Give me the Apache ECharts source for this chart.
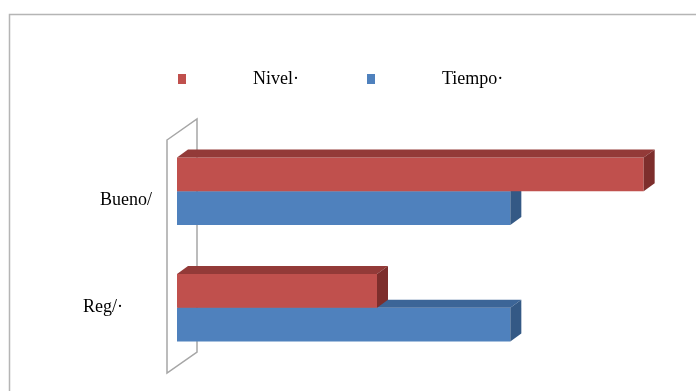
<!DOCTYPE html>
<html>
<head>
<meta charset="utf-8">
<style>
  html, body { margin: 0; padding: 0; background: #ffffff; }
  #chart { width: 696px; height: 391px; }
</style>
<script src="https://cdn.jsdelivr.net/npm/echarts@6/dist/echarts.min.js"></script>
</head>
<body>
<div id="chart"></div>
<script>
// ---- data ----
const categories = ['Bueno/', 'Reg/·'];
const seriesNames = ['Nivel·', 'Tiempo·'];
const nivelValues = [70, 30];
const tiempoValues = [50, 50];

// ---- styles ----
const palette = [
  { front: '#C0504D', top: '#933A38', side: '#7D2E2C' },
  { front: '#4F81BD', top: '#3C6597', side: '#345985' }
];
const DX = 11, DY = 8;
const FONT = 'Liberation Serif';

function make3DBar(seriesIdx) {
  return function (params, api) {
    const val = api.value(0);
    const cat = api.value(1);
    const p0 = api.coord([0, cat]);
    const p1 = api.coord([val, cat]);
    const band = api.size([0, 1])[1];
    const h = band * 0.29;
    const x0 = p0[0], x1 = p1[0];
    const y0 = seriesIdx === 0 ? p0[1] - h : p0[1];
    const c = palette[seriesIdx];
    return {
      type: 'group',
      children: [
        { type: 'rect', shape: { x: x0, y: y0, width: x1 - x0, height: h },
          style: { fill: c.front } },
        { type: 'polygon', shape: { points: [[x0, y0], [x0 + DX, y0 - DY], [x1 + DX, y0 - DY], [x1, y0]] },
          style: { fill: c.top } },
        { type: 'polygon', shape: { points: [[x1, y0], [x1 + DX, y0 - DY], [x1 + DX, y0 + h - DY], [x1, y0 + h]] },
          style: { fill: c.side } }
      ]
    };
  };
}

function wall(params, api) {
  const cs = params.coordSys;
  const fx = cs.x - 10, ty = cs.y + 7, by = cs.y + cs.height + 7;
  const bx = cs.x + 20, off = -21;
  return {
    type: 'polygon',
    shape: { points: [[fx, ty], [bx, ty + off], [bx, by + off], [fx, by]] },
    style: { fill: 'none', stroke: '#A6A6A6', lineWidth: 1.5 }
  };
}

const chart = echarts.init(document.getElementById('chart'), null, { renderer: 'canvas' });
chart.setOption({
  animation: false,
  backgroundColor: '#ffffff',
  graphic: [{
    type: 'rect', left: 7, top: 12,
    shape: { width: 720, height: 420 },
    style: { fill: 'none', stroke: '#B5B5B5', lineWidth: 1.5 },
    silent: true
  }],
  legend: {
    left: 173, top: 65,
    itemWidth: 8, itemHeight: 10, itemGap: 68,
    icon: 'rect',
    data: [
      { name: seriesNames[0], itemStyle: { color: palette[0].front } },
      { name: seriesNames[1], itemStyle: { color: palette[1].front } }
    ],
    textStyle: { fontFamily: FONT, fontSize: 18, color: '#000', padding: [0, 0, 0, 62] }
  },
  grid: { left: 177, right: 19, top: 133, bottom: 25 },
  xAxis: { type: 'value', min: 0, max: 75, show: false },
  yAxis: {
    type: 'category', inverse: true, data: categories,
    axisLine: { show: false }, axisTick: { show: false }, splitLine: { show: false },
    axisLabel: {
      margin: 25,
      fontFamily: FONT, fontSize: 18, color: '#000',
      formatter: function (v, i) { return i === 0 ? '{a|' + v + '}' : '{b|' + v + '}'; },
      rich: {
        a: { fontFamily: FONT, fontSize: 18, color: '#000', padding: [19, 0, 0, 0] },
        b: { fontFamily: FONT, fontSize: 18, color: '#000', padding: [0, 29, 1, 0] }
      }
    }
  },
  series: [
    { type: 'custom', name: 'wall', renderItem: wall, data: [[0, 0]], encode: { x: 0, y: 1 }, z: 1, silent: true },
    { type: 'custom', name: seriesNames[1], renderItem: make3DBar(1), z: 2,
      itemStyle: { color: palette[1].front },
      data: tiempoValues.map((v, i) => [v, i]), encode: { x: 0, y: 1 } },
    { type: 'custom', name: seriesNames[0], renderItem: make3DBar(0), z: 3,
      itemStyle: { color: palette[0].front },
      data: nivelValues.map((v, i) => [v, i]), encode: { x: 0, y: 1 } }
  ]
});
</script>
</body>
</html>
